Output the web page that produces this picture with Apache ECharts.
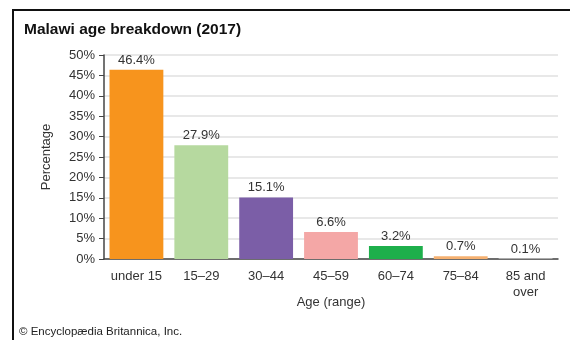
<!DOCTYPE html>
<html>
<head>
<meta charset="utf-8">
<script src="https://cdn.jsdelivr.net/npm/echarts@6/dist/echarts.min.js"></script>
<style>
    html, body { margin: 0; padding: 0; background: #fff; }
    #chart { width: 570px; height: 340px; }
    #frame {
        position: absolute; left: 12px; top: 9px; right: 0; bottom: 0;
        border-top: 2px solid #111; border-left: 2px solid #111;
        pointer-events: none;
    }
</style>
</head>
<body>
<div id="chart"></div>
<div id="frame"></div>
<script>
// data
let ageGroups = ['under 15', '15–29', '30–44', '45–59', '60–74', '75–84', '85 and\nover'];
let shares = [46.4, 27.9, 15.1, 6.6, 3.2, 0.7, 0.1];
let barColors = ['#f7941d', '#b6d99f', '#7b5ea7', '#f4a7a6', '#1daf4b', '#f5b070', '#ececec'];

let chart = echarts.init(document.getElementById('chart'));

let option = {
    backgroundColor: '#fff',
    textStyle: { fontFamily: 'Liberation Sans, Arial, sans-serif' },
    title: {
        text: 'Malawi age breakdown (2017)',
        left: 19,
        top: 17,
        textStyle: { fontSize: 15.5, fontWeight: 'bold', color: '#111' }
    },
    graphic: [
        {
            type: 'text',
            left: 19,
            top: 326,
            style: { text: '© Encyclopædia Britannica, Inc.', fontSize: 11.5, fill: '#222', fontFamily: 'Liberation Sans, Arial, sans-serif' }
        }
    ],
    grid: {
        left: 104,
        right: 12,
        top: 55,
        bottom: 81,
        containLabel: false
    },
    xAxis: {
        type: 'category',
        data: ageGroups,
        name: 'Age (range)',
        nameLocation: 'middle',
        nameGap: 37,
        nameMoveOverlap: false,
        nameTextStyle: { fontSize: 13, color: '#333' },
        axisLine: { lineStyle: { color: '#444', width: 1.5 } },
        axisTick: { show: false },
        axisLabel: { fontSize: 13, color: '#333', margin: 9, lineHeight: 16, interval: 0 }
    },
    yAxis: {
        type: 'value',
        min: 0,
        max: 50,
        interval: 5,
        name: 'Percentage',
        nameLocation: 'middle',
        nameGap: 51,
        nameMoveOverlap: false,
        nameTextStyle: { fontSize: 13, color: '#333' },
        axisLine: { show: true, lineStyle: { color: '#444', width: 1.5 } },
        axisTick: { show: true, length: 5, lineStyle: { color: '#444' } },
        axisLabel: { fontSize: 13, color: '#333', margin: 9, formatter: '{value}%' },
        splitLine: { lineStyle: { color: '#e0e0e0', width: 1.5 } }
    },
    series: [
        {
            type: 'bar',
            barCategoryGap: '17%',
            data: shares.map((v, i) => ({ value: v, itemStyle: { color: barColors[i] } })),
            label: {
                show: true,
                position: 'top',
                distance: 3,
                fontSize: 13,
                color: '#333',
                formatter: '{c}%'
            }
        }
    ]
};

chart.setOption(option);
</script>
</body>
</html>
